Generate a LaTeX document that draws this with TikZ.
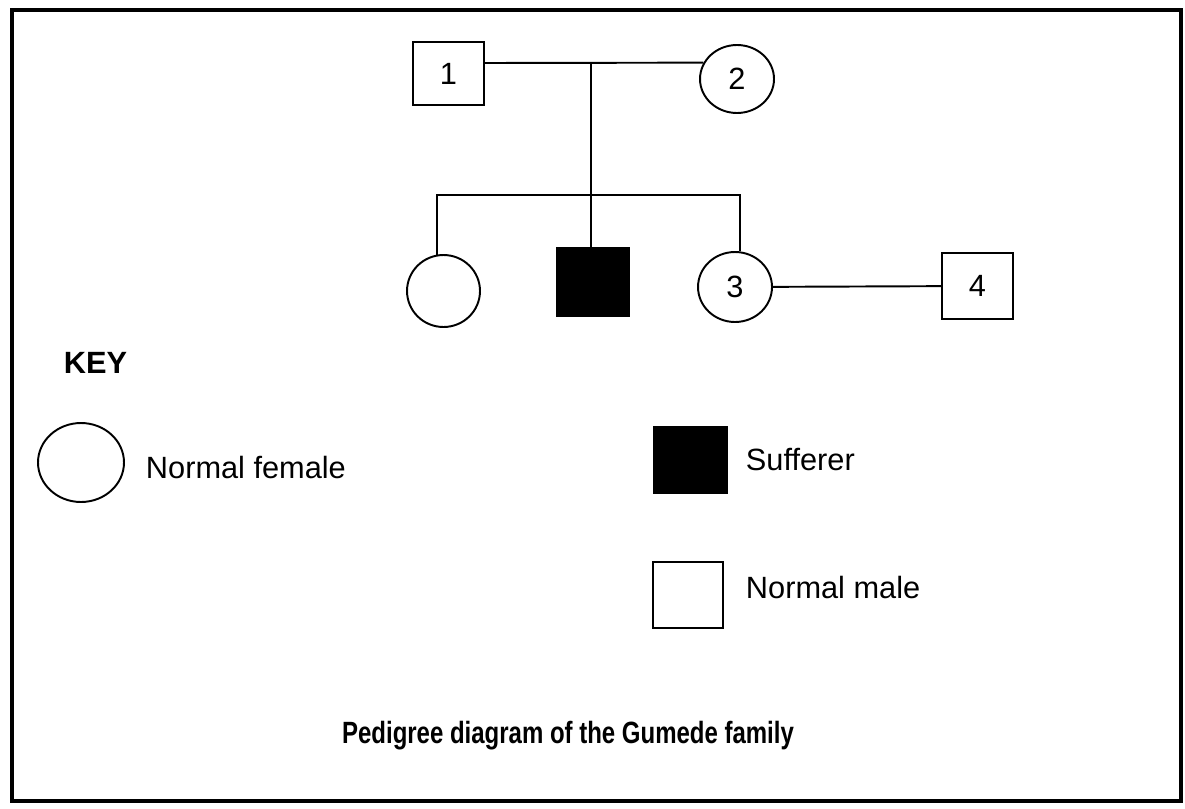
\documentclass[tikz,border=0pt]{standalone}
\usepackage{fontspec}
\setmainfont{Liberation Sans}
\usetikzlibrary{shapes.geometric}

\newcommand{\pedsize}{\fontsize{17.5}{21}\selectfont}

\begin{document}
\begin{tikzpicture}[x=0.02cm, y=-0.02cm,
  font=\pedsize,
  line width=1.1pt,
  male/.style={draw, minimum width=1.42cm, minimum height=1.28cm, inner sep=0},
  female/.style={draw, ellipse, minimum width=1.48cm, minimum height=1.42cm, inner sep=0},
  sufferer/.style={male, fill=black},
  keytext/.style={anchor=base west, inner sep=0}]
\useasboundingbox (0,0) rectangle (1185,808);
\draw[line width=2.3pt] (12,10) rectangle (1181,801);
% family tree
\node[male, minimum height=1.26cm] (m1) at (448.5,73.5) {1};
\node[female, minimum height=1.36cm] (f2) at (737,79) {2};
\node[female, minimum width=1.46cm, minimum height=1.44cm] (c1) at (443.5,291) {};
\node[sufferer, minimum width=1.44cm, minimum height=1.36cm] (sick) at (593,282) {};
\node[female, minimum height=1.40cm] (f3) at (735,287) {3};
\node[male, minimum height=1.32cm] (m4) at (977.5,286) {4};
\coordinate (mate) at (591,63);
\coordinate (bar) at (591,195);
\draw (m1.east|-mate) -- (f2.154);
\draw (mate) -- (mate|-sick.north);
\draw (c1.100) -- (c1.100|-bar) -- (f3.82|-bar) -- (f3.82);
\draw (f3) -- (m4);
% key
\node[keytext, font=\pedsize\bfseries] (key) at (63,373) {KEY};
\node[female, minimum width=1.72cm, minimum height=1.58cm] (kfem) at (81,462.5) {};
\node[keytext] (lfem) at (145,478) {Normal female};
\node[sufferer, minimum width=1.46cm, minimum height=1.32cm] (ksick) at (690.5,460) {};
\node[keytext] (lsick) at (745,470) {Sufferer};
\node[male, minimum width=1.40cm, minimum height=1.32cm] (kmale) at (688,595) {};
\node[keytext] (lmale) at (745,598) {Normal male};
\node[anchor=base, inner sep=0, font=\pedsize\bfseries] (title) at (568,743)
  {\scalebox{0.78}[1]{Pedigree diagram of the Gumede family}};
\end{tikzpicture}
\end{document}
